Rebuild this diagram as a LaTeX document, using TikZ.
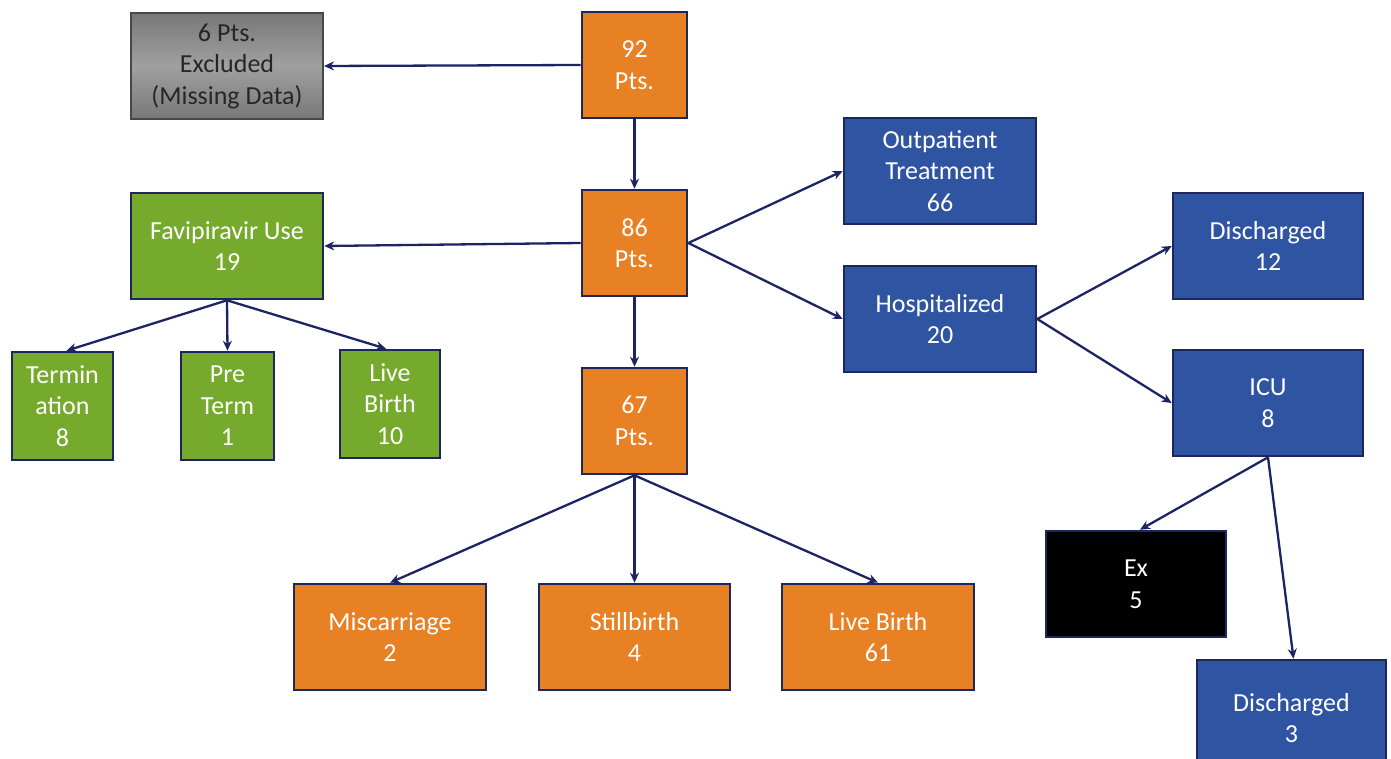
\documentclass[tikz,border=0pt]{standalone}
\usepackage{fontspec}
\setmainfont{Carlito}
\usetikzlibrary{arrows.meta}
\definecolor{orng}{RGB}{232,128,36}
\definecolor{blu}{RGB}{47,84,162}
\definecolor{grn}{RGB}{118,170,44}
\definecolor{edge}{RGB}{30,38,96}
\definecolor{arrc}{RGB}{28,36,100}
\definecolor{gryA}{RGB}{120,120,120}
\definecolor{gryB}{RGB}{160,160,160}
\begin{document}
\begin{tikzpicture}[x=1pt,y=-1pt,
  box/.style={draw=edge, line width=2.6pt, inner sep=0pt, align=center, text=white,
    font=\fontsize{26}{31.5}\selectfont, minimum height=106pt},
  obox/.style={box, fill=orng},
  bbox/.style={box, fill=blu},
  gbox/.style={box, fill=grn},
  greybox/.style={box, draw=gryA!60!black, line width=2pt, top color=gryA, bottom color=gryA, middle color=gryB, text=black!85},
  kbox/.style={box, fill=black},
  arr/.style={draw=arrc, line width=2.3pt, -{Stealth[length=10pt,width=9pt]}}
]
\useasboundingbox (0,0) rectangle (1391,759);

% nodes
\node[greybox, minimum width=192pt] (excl) at (227,66) {6 Pts.\\Excluded\\(Missing Data)};
\node[obox, minimum width=105pt] (n92) at (634.5,65) {92\\Pts.};
\node[obox, minimum width=105pt] (n86) at (634.5,243) {86\\Pts.};
\node[obox, minimum width=105pt] (n67) at (634.5,421) {67\\Pts.};

\node[gbox, minimum width=192pt] (fav) at (227,246) {Favipiravir Use\\19};
\node[gbox, minimum width=101pt, minimum height=108pt] (term) at (62.5,406) {Termin\\ation\\8};
\node[gbox, minimum width=93pt, minimum height=108pt] (pre) at (227.5,406) {Pre\\Term\\1};
\node[gbox, minimum width=100pt, minimum height=108pt] (live10) at (390,404) {Live\\Birth\\10};

\node[bbox, minimum width=192pt] (outp) at (940,171) {Outpatient\\Treatment\\66};
\node[bbox, minimum width=192pt] (hosp) at (940,319) {Hospitalized\\20};
\node[bbox, minimum width=190pt] (dis12) at (1268,246) {Discharged\\12};
\node[bbox, minimum width=190pt] (icu) at (1268,403) {ICU\\8};
\node[kbox, minimum width=180pt] (ex) at (1136,584) {Ex\\5};
\node[bbox, minimum width=189pt, minimum height=116pt] (dis3) at (1291.5,718) {Discharged\\3};

\node[obox, minimum width=192pt] (misc) at (390,637) {Miscarriage\\2};
\node[obox, minimum width=191pt] (still) at (634.5,637) {Stillbirth\\4};
\node[obox, minimum width=192pt] (live61) at (878,637) {Live Birth\\61};

% connectors
\draw[arr] (n92.west) -- (excl.east);
\draw[arr] (n92.south) -- (n86.north);
\draw[arr] (n86.west) -- (fav.east);
\draw[arr] (n86.east) -- (outp.west);
\draw[arr] (n86.east) -- (hosp.west);
\draw[arr] (n86.south) -- (n67.north);

\draw[arr] (fav.south) -- ([xshift=4pt]term.north);
\draw[arr] (fav.south) -- (pre.north);
\draw[arr] (fav.south) -- ([xshift=-4pt]live10.north);

\draw[arr] (n67.south) -- (misc.north);
\draw[arr] (n67.south) -- (still.north);
\draw[arr] (n67.south) -- (live61.north);

\draw[arr] (hosp.east) -- (dis12.west);
\draw[arr] (hosp.east) -- (icu.west);
\draw[arr] (icu.south) -- ([xshift=4pt]ex.north);
\draw[arr] (icu.south) -- ([xshift=2pt]dis3.north);
\end{tikzpicture}
\end{document}
